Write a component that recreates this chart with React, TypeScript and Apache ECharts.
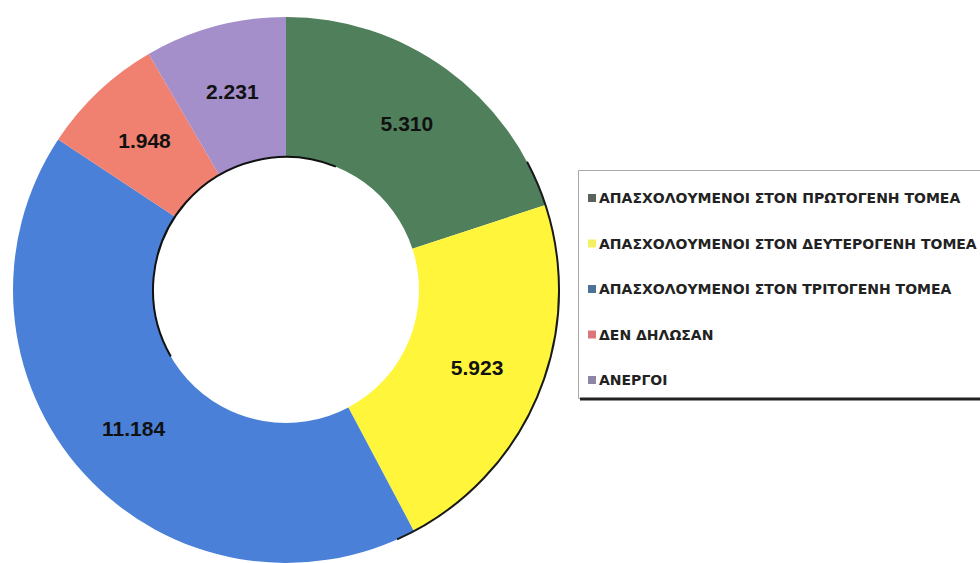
import React, { useEffect, useRef } from "react";
import * as echarts from "echarts";

const categories = [
  "ΑΠΑΣΧΟΛΟΥΜΕΝΟΙ ΣΤΟΝ ΠΡΩΤΟΓΕΝΗ ΤΟΜΕΑ",
  "ΑΠΑΣΧΟΛΟΥΜΕΝΟΙ ΣΤΟΝ ΔΕΥΤΕΡΟΓΕΝΗ ΤΟΜΕΑ",
  "ΑΠΑΣΧΟΛΟΥΜΕΝΟΙ ΣΤΟΝ ΤΡΙΤΟΓΕΝΗ ΤΟΜΕΑ",
  "ΔΕΝ ΔΗΛΩΣΑΝ",
  "ΑΝΕΡΓΟΙ",
];
const values = [5310, 5923, 11184, 1948, 2231];
const valueLabels = ["5.310", "5.923", "11.184", "1.948", "2.231"];
const colors = ["#4F7F5B", "#FFF63C", "#4A80D8", "#F0806F", "#A48FCA"];
const legendMarkerColors = ["#5A625C", "#F4F060", "#4A7396", "#D8787C", "#8C86A4"];

export default function App() {
  const ref = useRef<HTMLDivElement>(null);
  useEffect(() => {
    if (!ref.current) return;
    const chart = echarts.init(ref.current, null, { renderer: "svg" });
    chart.setOption({
      animation: false,
      backgroundColor: "#ffffff",
      color: colors,
      graphic: [
        {
          type: "rect",
          z: -1,
          shape: { x: 578.5, y: 170.5, width: 420, height: 228 },
          style: { fill: "#ffffff", stroke: "#a8a8a8", lineWidth: 1 },
        },
        {
          type: "line",
          shape: { x1: 580, y1: 399, x2: 980, y2: 399 },
          style: { stroke: "#222222", lineWidth: 3 },
        },
        {
          type: "arc",
          z: 10,
          shape: { cx: 286, cy: 290, r: 133, startAngle: (150 * Math.PI) / 180, endAngle: (292 * Math.PI) / 180, clockwise: true },
          style: { stroke: "#111111", lineWidth: 2, fill: "none" },
        },
        {
          type: "arc",
          z: 10,
          shape: { cx: 286, cy: 290, r: 273, startAngle: (-28 * Math.PI) / 180, endAngle: (66 * Math.PI) / 180, clockwise: true },
          style: { stroke: "#1a1a1a", lineWidth: 2, fill: "none" },
        },
      ],
      legend: {
        orient: "vertical",
        left: 583,
        top: 186,
        icon: "rect",
        itemWidth: 8,
        itemHeight: 8,
        itemGap: 31.5,
        selectedMode: false,
        textStyle: {
          fontFamily: "DejaVu Sans",
          fontWeight: "bold",
          fontSize: 14,
          lineHeight: 14,
          color: "#222222",
          padding: [0, 0, 0, -2],
        },
        data: categories.map((name, i) => ({
          name,
          itemStyle: { color: legendMarkerColors[i] },
        })),
      },
      series: [
        {
          type: "pie",
          center: [286, 290],
          radius: [133, 273],
          startAngle: 90,
          clockwise: true,
          avoidLabelOverlap: false,
          label: {
            show: true,
            position: "inside",
            fontFamily: "Liberation Sans",
            fontWeight: "bold",
            fontSize: 21,
            color: "#111111",
            formatter: (p: any) => valueLabels[p.dataIndex],
          },
          labelLine: { show: false },
          itemStyle: { borderWidth: 0 },
          emphasis: { disabled: true },
          data: categories.map((name, i) => ({ name, value: values[i] })),
        },
      ],
    });
    return () => chart.dispose();
  }, []);
  return (
    <div
      ref={ref}
      style={{ position: "fixed", left: 0, top: 0, width: 980, height: 563 }}
    />
  );
}
